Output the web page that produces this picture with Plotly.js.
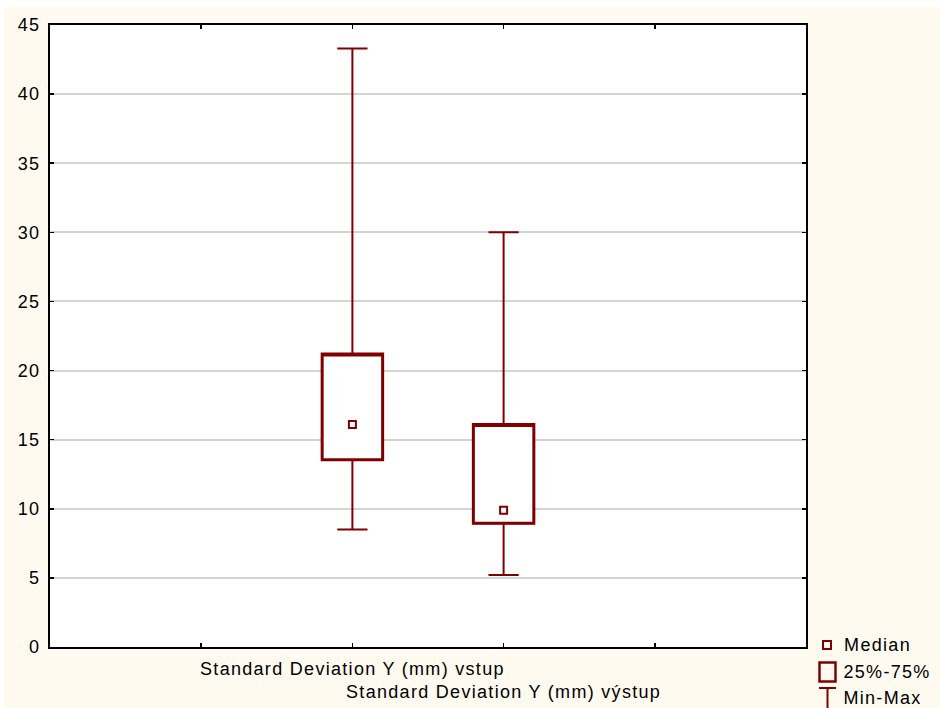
<!DOCTYPE html>
<html>
<head>
<meta charset="utf-8">
<script src="https://cdn.plot.ly/plotly-3.0.1.min.js"></script>
<style>
  html, body { margin: 0; padding: 0; background: #ffffff; }
  #chart { position: absolute; left: 4px; top: 7px; width: 936px; height: 701px; }
  #chart text { letter-spacing: 1.3px; }
</style>
</head>
<body>
<div id="chart"></div>
<script>
// Data
const categories = ['Standard Deviation Y (mm) vstup', 'Standard Deviation Y (mm) výstup'];
const positions = [2, 3];
const minVals = [8.5, 5.2];
const q1Vals = [13.55, 8.95];
const medianVals = [16.1, 9.9];
const q3Vals = [21.2, 16.1];
const maxVals = [43.3, 30.0];
const yTickVals = [0, 5, 10, 15, 20, 25, 30, 35, 40, 45];
const xTickVals = [1, 2, 3, 4];
const xTickText = ['', categories[0], '<br>' + categories[1], ''];

const red = '#800000';
const font = 'Liberation Sans, Arial, sans-serif';

// whiskers (min-max) box trace, thin lines
const whiskers = {
  type: 'box',
  x: positions,
  q1: q1Vals,
  median: q3Vals,
  q3: q3Vals,
  lowerfence: minVals,
  upperfence: maxVals,
  width: 0.4,
  whiskerwidth: 0.5,
  boxpoints: false,
  fillcolor: '#ffffff',
  line: { color: red, width: 2 },
  hoverinfo: 'skip',
  showlegend: false
};
// box body (25%-75%), thick lines
const boxes = {
  type: 'box',
  x: positions,
  q1: q1Vals,
  median: q3Vals,
  q3: q3Vals,
  lowerfence: q1Vals,
  upperfence: q3Vals,
  width: 0.4,
  whiskerwidth: 0,
  boxpoints: false,
  fillcolor: '#ffffff',
  line: { color: red, width: 3 },
  hoverinfo: 'skip',
  showlegend: false
};
const medians = {
  type: 'scatter',
  mode: 'markers',
  x: positions,
  y: medianVals,
  marker: { symbol: 'square-open', size: 7, color: red, line: { color: red, width: 2 } },
  showlegend: false,
  hoverinfo: 'skip'
};

// legend helper (pixel -> paper)
const PL = 50, PR = 806, PT = 25, PB = 647;
const px = v => (v - PL) / (PR - PL);
const py = v => (PB - v) / (PB - PT);

const shapes = [
  { type: 'rect', xref: 'paper', yref: 'paper', x0: px(823), x1: px(831), y0: py(649), y1: py(641),
    line: { color: red, width: 2 }, fillcolor: 'rgba(0,0,0,0)' },
  { type: 'rect', xref: 'paper', yref: 'paper', x0: px(819.5), x1: px(835.5), y0: py(681.5), y1: py(662.5),
    line: { color: red, width: 2.5 }, fillcolor: 'rgba(0,0,0,0)' },
  { type: 'line', xref: 'paper', yref: 'paper', x0: px(819), x1: px(836), y0: py(688), y1: py(688),
    line: { color: red, width: 2 } },
  { type: 'line', xref: 'paper', yref: 'paper', x0: px(827.5), x1: px(827.5), y0: py(688), y1: py(710),
    line: { color: red, width: 2 } }
];
const legendItems = ['Median', '25%-75%', 'Min-Max'];
const legendY = [645, 672, 698];
const annotations = legendItems.map((t, i) => ({
  xref: 'paper', yref: 'paper', x: px(846), y: py(legendY[i]),
  xanchor: 'left', yanchor: 'middle', text: t, showarrow: false,
  font: { family: font, size: 18, color: '#000000' }
}));

const layout = {
  width: 936, height: 701,
  paper_bgcolor: '#fffaf0',
  plot_bgcolor: '#ffffff',
  margin: { l: 46, r: 134, t: 18, b: 61, pad: 0 },
  font: { family: font, size: 18, color: '#000000' },
  showlegend: false,
  boxmode: 'overlay',
  xaxis: {
    type: 'linear',
    range: [0, 5],
    tickmode: 'array',
    tickvals: xTickVals,
    ticktext: xTickText,
    tickangle: 0,
    ticklabelstandoff: 4,
    ticks: 'inside', ticklen: 4, tickwidth: 1.5, tickcolor: '#000000',
    showline: true, linecolor: '#000000', linewidth: 2, mirror: 'ticks',
    showgrid: false, zeroline: false,
    tickfont: { family: font, size: 18, color: '#000000' },
    fixedrange: true
  },
  yaxis: {
    range: [0, 45],
    tickmode: 'array',
    tickvals: yTickVals,
    ticklabelstandoff: 4,
    ticks: 'inside', ticklen: 4, tickwidth: 1.5, tickcolor: '#000000',
    showline: true, linecolor: '#000000', linewidth: 2, mirror: 'ticks',
    showgrid: true, gridcolor: '#d4d4d4', gridwidth: 2,
    zeroline: false,
    tickfont: { family: font, size: 18, color: '#000000' },
    fixedrange: true
  },
  shapes: shapes,
  annotations: annotations
};

Plotly.newPlot('chart', [whiskers, boxes, medians], layout, { staticPlot: true, displayModeBar: false });
</script>
</body>
</html>
